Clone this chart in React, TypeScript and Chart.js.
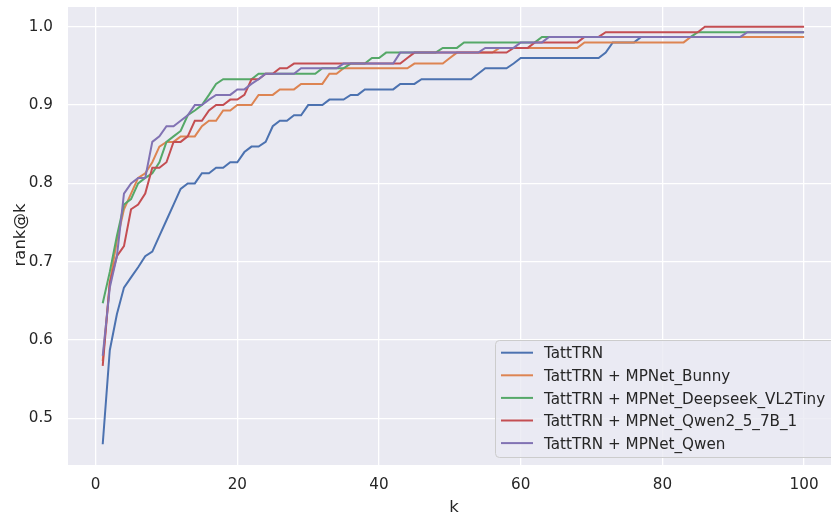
import { useEffect, useRef } from "react";
import { Chart, registerables } from "chart.js";

Chart.register(...registerables);

const K = [
  1, 2, 3, 4, 5, 6, 7, 8, 9, 10, 11, 12, 13, 14, 15, 16, 17, 18, 19, 20,
  21, 22, 23, 24, 25, 26, 27, 28, 29, 30, 31, 32, 33, 34, 35, 36, 37, 38, 39, 40,
  41, 42, 43, 44, 45, 46, 47, 48, 49, 50, 51, 52, 53, 54, 55, 56, 57, 58, 59, 60,
  61, 62, 63, 64, 65, 66, 67, 68, 69, 70, 71, 72, 73, 74, 75, 76, 77, 78, 79, 80,
  81, 82, 83, 84, 85, 86, 87, 88, 89, 90, 91, 92, 93, 94, 95, 96, 97, 98, 99, 100,
];

const SERIES_NAMES = [
  "TattTRN",
  "TattTRN + MPNet_Bunny",
  "TattTRN + MPNet_Deepseek_VL2Tiny",
  "TattTRN + MPNet_Qwen2_5_7B_1",
  "TattTRN + MPNet_Qwen",
];

const tattTRN = [
  0.467, 0.587, 0.633, 0.667, 0.68, 0.693, 0.707, 0.713, 0.733, 0.753,
  0.773, 0.793, 0.8, 0.8, 0.813, 0.813, 0.82, 0.82, 0.827, 0.827,
  0.84, 0.847, 0.847, 0.853, 0.873, 0.88, 0.88, 0.887, 0.887, 0.9,
  0.9, 0.9, 0.907, 0.907, 0.907, 0.913, 0.913, 0.92, 0.92, 0.92,
  0.92, 0.92, 0.927, 0.927, 0.927, 0.933, 0.933, 0.933, 0.933, 0.933,
  0.933, 0.933, 0.933, 0.94, 0.947, 0.947, 0.947, 0.947, 0.953, 0.96,
  0.96, 0.96, 0.96, 0.96, 0.96, 0.96, 0.96, 0.96, 0.96, 0.96,
  0.96, 0.967, 0.98, 0.98, 0.98, 0.98, 0.987, 0.987, 0.987, 0.987,
  0.987, 0.987, 0.987, 0.987, 0.987, 0.987, 0.987, 0.987, 0.987, 0.987,
  0.987, 0.987, 0.987, 0.987, 0.987, 0.987, 0.987, 0.987, 0.987, 0.987,
];

const mpnetBunny = [
  0.573, 0.673, 0.727, 0.767, 0.787, 0.807, 0.813, 0.827, 0.847, 0.853,
  0.853, 0.86, 0.86, 0.86, 0.873, 0.88, 0.88, 0.893, 0.893, 0.9,
  0.9, 0.9, 0.913, 0.913, 0.913, 0.92, 0.92, 0.92, 0.927, 0.927,
  0.927, 0.927, 0.94, 0.94, 0.947, 0.947, 0.947, 0.947, 0.947, 0.947,
  0.947, 0.947, 0.947, 0.947, 0.953, 0.953, 0.953, 0.953, 0.953, 0.96,
  0.967, 0.967, 0.967, 0.967, 0.967, 0.967, 0.973, 0.973, 0.973, 0.973,
  0.973, 0.973, 0.973, 0.973, 0.973, 0.973, 0.973, 0.973, 0.98, 0.98,
  0.98, 0.98, 0.98, 0.98, 0.98, 0.98, 0.98, 0.98, 0.98, 0.98,
  0.98, 0.98, 0.98, 0.987, 0.987, 0.987, 0.987, 0.987, 0.987, 0.987,
  0.987, 0.987, 0.987, 0.987, 0.987, 0.987, 0.987, 0.987, 0.987, 0.987,
];

const mpnetDeepseek = [
  0.647, 0.687, 0.733, 0.773, 0.78, 0.8, 0.807, 0.813, 0.827, 0.853,
  0.86, 0.867, 0.887, 0.893, 0.9, 0.913, 0.927, 0.933, 0.933, 0.933,
  0.933, 0.933, 0.94, 0.94, 0.94, 0.94, 0.94, 0.94, 0.94, 0.94,
  0.94, 0.947, 0.947, 0.947, 0.947, 0.953, 0.953, 0.953, 0.96, 0.96,
  0.967, 0.967, 0.967, 0.967, 0.967, 0.967, 0.967, 0.967, 0.973, 0.973,
  0.973, 0.98, 0.98, 0.98, 0.98, 0.98, 0.98, 0.98, 0.98, 0.98,
  0.98, 0.98, 0.987, 0.987, 0.987, 0.987, 0.987, 0.987, 0.987, 0.987,
  0.987, 0.987, 0.987, 0.987, 0.987, 0.987, 0.987, 0.987, 0.987, 0.987,
  0.987, 0.987, 0.987, 0.987, 0.993, 0.993, 0.993, 0.993, 0.993, 0.993,
  0.993, 0.993, 0.993, 0.993, 0.993, 0.993, 0.993, 0.993, 0.993, 0.993,
];

const mpnetQwen25 = [
  0.567, 0.673, 0.707, 0.72, 0.767, 0.773, 0.787, 0.82, 0.82, 0.827,
  0.853, 0.853, 0.86, 0.88, 0.88, 0.893, 0.9, 0.9, 0.907, 0.907,
  0.913, 0.933, 0.933, 0.94, 0.94, 0.947, 0.947, 0.953, 0.953, 0.953,
  0.953, 0.953, 0.953, 0.953, 0.953, 0.953, 0.953, 0.953, 0.953, 0.953,
  0.953, 0.953, 0.953, 0.96, 0.967, 0.967, 0.967, 0.967, 0.967, 0.967,
  0.967, 0.967, 0.967, 0.967, 0.967, 0.967, 0.967, 0.967, 0.973, 0.973,
  0.973, 0.98, 0.98, 0.98, 0.98, 0.98, 0.98, 0.98, 0.987, 0.987,
  0.987, 0.993, 0.993, 0.993, 0.993, 0.993, 0.993, 0.993, 0.993, 0.993,
  0.993, 0.993, 0.993, 0.993, 0.993, 1.0, 1.0, 1.0, 1.0, 1.0,
  1.0, 1.0, 1.0, 1.0, 1.0, 1.0, 1.0, 1.0, 1.0, 1.0,
];

const mpnetQwen = [
  0.58, 0.667, 0.707, 0.787, 0.8, 0.807, 0.807, 0.853, 0.86, 0.873,
  0.873, 0.88, 0.887, 0.9, 0.9, 0.907, 0.913, 0.913, 0.913, 0.92,
  0.92, 0.927, 0.933, 0.94, 0.94, 0.94, 0.94, 0.94, 0.947, 0.947,
  0.947, 0.947, 0.947, 0.947, 0.953, 0.953, 0.953, 0.953, 0.953, 0.953,
  0.953, 0.953, 0.967, 0.967, 0.967, 0.967, 0.967, 0.967, 0.967, 0.967,
  0.967, 0.967, 0.967, 0.967, 0.973, 0.973, 0.973, 0.973, 0.973, 0.98,
  0.98, 0.98, 0.98, 0.987, 0.987, 0.987, 0.987, 0.987, 0.987, 0.987,
  0.987, 0.987, 0.987, 0.987, 0.987, 0.987, 0.987, 0.987, 0.987, 0.987,
  0.987, 0.987, 0.987, 0.987, 0.987, 0.987, 0.987, 0.987, 0.987, 0.987,
  0.987, 0.993, 0.993, 0.993, 0.993, 0.993, 0.993, 0.993, 0.993, 0.993,
];

const X_TICKS = [0, 20, 40, 60, 80, 100];
const Y_TICKS = [0.5, 0.6, 0.7, 0.8, 0.9, 1.0];
const X_TITLE = "k";
const Y_TITLE = "rank@k";

const COLORS = ["#4C72B0", "#DD8452", "#55A868", "#C44E52", "#8172B3"];
const FONT = '"DejaVu Sans", sans-serif';
const TEXT_COLOR = "#262626";

export default function App() {
  const ref = useRef<HTMLCanvasElement | null>(null);

  useEffect(() => {
    const canvas = ref.current;
    if (!canvas) return;
    const all = [tattTRN, mpnetBunny, mpnetDeepseek, mpnetQwen25, mpnetQwen];
    const datasets = all.map((vals, i) => ({
      label: SERIES_NAMES[i],
      data: vals.map((v, j) => ({ x: K[j], y: v })),
      borderColor: COLORS[i],
      backgroundColor: COLORS[i],
      borderWidth: 2,
      pointRadius: 0,
      pointHoverRadius: 0,
      tension: 0,
      fill: false,
      order: all.length - 1 - i,
    }));

    const bgPlugin = {
      id: "axesBg",
      beforeDraw(chart: any) {
        const { ctx, chartArea: a } = chart;
        ctx.save();
        ctx.fillStyle = "#EAEAF2";
        ctx.fillRect(a.left, a.top, a.right - a.left, a.bottom - a.top);
        ctx.restore();
      },
    };

    const overlayPlugin = {
      id: "overlay",
      afterDraw(chart: any) {
        const { ctx } = chart;
        ctx.save();
        ctx.fillStyle = TEXT_COLOR;
        ctx.font = `16.5px ${FONT}`;
        ctx.textAlign = "center";
        ctx.textBaseline = "alphabetic";
        ctx.fillText(X_TITLE, 454, 512);
        ctx.save();
        ctx.translate(25, 235);
        ctx.rotate(-Math.PI / 2);
        ctx.fillText(Y_TITLE, 0, 0);
        ctx.restore();

        const bx = 495.5, by = 340.5, bw = 340, bh = 117, r = 4;
        ctx.beginPath();
        ctx.moveTo(bx + r, by);
        ctx.lineTo(bx + bw - r, by);
        ctx.arcTo(bx + bw, by, bx + bw, by + r, r);
        ctx.lineTo(bx + bw, by + bh - r);
        ctx.arcTo(bx + bw, by + bh, bx + bw - r, by + bh, r);
        ctx.lineTo(bx + r, by + bh);
        ctx.arcTo(bx, by + bh, bx, by + bh - r, r);
        ctx.lineTo(bx, by + r);
        ctx.arcTo(bx, by, bx + r, by, r);
        ctx.closePath();
        ctx.fillStyle = "rgba(234,234,242,0.8)";
        ctx.fill();
        ctx.strokeStyle = "#cccccc";
        ctx.lineWidth = 1;
        ctx.stroke();

        ctx.font = `15.2px ${FONT}`;
        ctx.textAlign = "left";
        ctx.textBaseline = "alphabetic";
        SERIES_NAMES.forEach((name, i) => {
          const base = 358.3 + i * 22.6;
          ctx.strokeStyle = COLORS[i];
          ctx.lineWidth = 2;
          ctx.beginPath();
          ctx.moveTo(501, base - 5.6);
          ctx.lineTo(533, base - 5.6);
          ctx.stroke();
          ctx.fillStyle = TEXT_COLOR;
          ctx.fillText(name, 544, base);
        });
        ctx.restore();
      },
    };

    const chart = new Chart(canvas, {
      type: "line",
      data: { datasets } as any,
      options: {
        responsive: false,
        animation: false,
        devicePixelRatio: 1,
        layout: { padding: { top: 7, right: 0, left: 0, bottom: 0 } },
        plugins: {
          legend: { display: false },
          tooltip: { enabled: false },
        },
        scales: {
          x: {
            type: "linear",
            min: -3.9,
            max: 103.8,
            afterBuildTicks: (s: any) => {
              s.ticks = X_TICKS.map((v) => ({ value: v }));
            },
            afterFit: (s: any) => {
              s.height = 50;
              s.paddingLeft = 0;
              s.paddingRight = 0;
              s.paddingTop = 0;
              s.paddingBottom = 0;
            },
            grid: { color: "#ffffff", lineWidth: 1.3, drawTicks: false },
            border: { display: false },
            ticks: {
              padding: 11,
              color: TEXT_COLOR,
              maxRotation: 0,
              font: { family: FONT, size: 15.2 },
              callback: (v: any) => String(v),
            },
          },
          y: {
            type: "linear",
            min: 0.4405,
            max: 1.0252,
            afterBuildTicks: (s: any) => {
              s.ticks = Y_TICKS.map((v) => ({ value: v }));
            },
            afterFit: (s: any) => {
              s.width = 68;
              s.paddingLeft = 0;
              s.paddingRight = 0;
              s.paddingTop = 0;
              s.paddingBottom = 0;
            },
            grid: { color: "#ffffff", lineWidth: 1.3, drawTicks: false },
            border: { display: false },
            ticks: {
              padding: 15,
              color: TEXT_COLOR,
              font: { family: FONT, size: 15.2 },
              callback: (v: any) => Number(v).toFixed(1),
            },
          },
        },
      } as any,
      plugins: [bgPlugin, overlayPlugin],
    });
    return () => chart.destroy();
  }, []);

  return (
    <div style={{ position: "absolute", left: 0, top: 0, width: 831, height: 515 }}>
      <canvas ref={ref} width={831} height={515} style={{ display: "block" }} />
    </div>
  );
}
